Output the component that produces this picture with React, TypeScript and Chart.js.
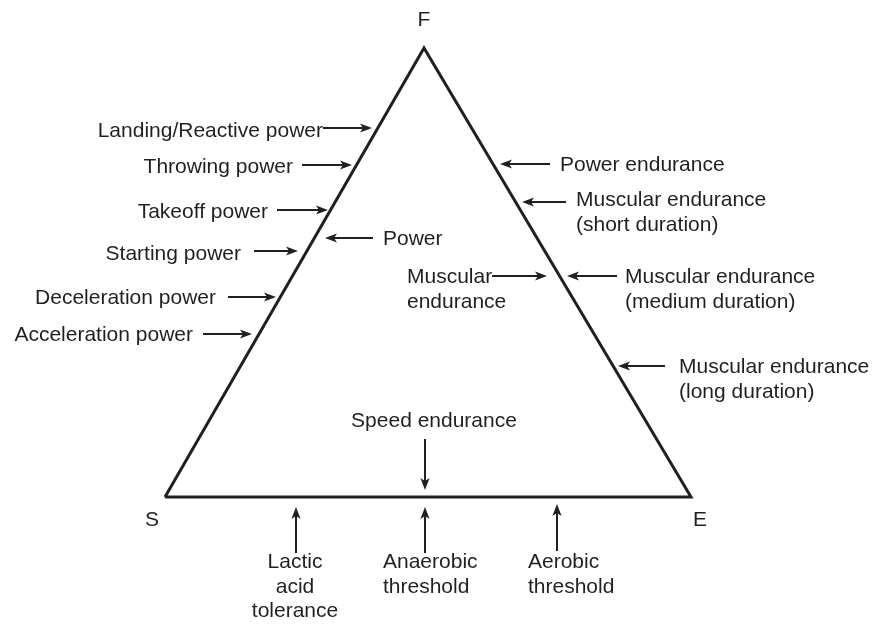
import React, { useEffect, useRef } from "react";
import { Chart, registerables } from "chart.js";

Chart.register(...registerables);

// Triangle vertices (S -> F -> E -> S), diagram units
const triangleX = [165, 424, 691, 165];
const triangleY = [497, 48, 497, 497];

// Arrows: tail x, tail y, tip x, tip y
const arrowTailX = [323, 302, 277, 254, 228, 203, 373, 550, 566, 492, 617, 665, 425, 296, 425, 557];
const arrowTailY = [128, 165, 210, 251, 297, 334, 238, 164, 202, 276, 276, 366, 439, 553, 553, 551];
const arrowTipX = [372, 352, 328, 298, 276, 252, 325, 500, 522, 547, 567, 618, 425, 296, 425, 557];
const arrowTipY = [128, 165, 210, 251, 297, 334, 238, 164, 202, 276, 276, 366, 490, 507, 507, 504];

// Labels
const labelText: string[][] = [
  ["F"],
  ["S"],
  ["E"],
  ["Landing/Reactive power"],
  ["Throwing power"],
  ["Takeoff power"],
  ["Starting power"],
  ["Deceleration power"],
  ["Acceleration power"],
  ["Power"],
  ["Power endurance"],
  ["Muscular endurance", "(short duration)"],
  ["Muscular", "endurance"],
  ["Muscular endurance", "(medium duration)"],
  ["Muscular endurance", "(long duration)"],
  ["Speed endurance"],
  ["Lactic", "acid", "tolerance"],
  ["Anaerobic", "threshold"],
  ["Aerobic", "threshold"],
];
const labelX = [424, 152, 700, 323, 293, 268, 241, 216, 193, 383, 560, 576, 407, 625, 679, 434, 295, 383, 528];
const labelY = [26, 526, 526, 137, 173, 218, 260, 304, 341, 245, 171, 206, 283, 283, 373, 427, 568, 568, 568];
const labelAlign: CanvasTextAlign[] = [
  "center", "center", "center",
  "right", "right", "right", "right", "right", "right",
  "left", "left", "left", "left", "left", "left",
  "center", "center", "left", "left",
];

const INK = "#231f20";
const FONT = '21px "Liberation Sans", Arial, sans-serif';
const LINE_GAP = 24.5;

const diagramPlugin = {
  id: "diagramPlugin",
  afterDatasetsDraw(chart: any) {
    const ctx: CanvasRenderingContext2D = chart.ctx;
    const xs = chart.scales.x;
    const ys = chart.scales.y;
    ctx.save();
    // arrows
    ctx.strokeStyle = INK;
    ctx.fillStyle = INK;
    ctx.lineWidth = 2;
    for (let i = 0; i < arrowTailX.length; i++) {
      const x0 = xs.getPixelForValue(arrowTailX[i]);
      const y0 = ys.getPixelForValue(arrowTailY[i]);
      const x1 = xs.getPixelForValue(arrowTipX[i]);
      const y1 = ys.getPixelForValue(arrowTipY[i]);
      const ang = Math.atan2(y1 - y0, x1 - x0);
      const len = 12;
      const half = 4.6;
      const notch = 9;
      const ux = Math.cos(ang);
      const uy = Math.sin(ang);
      const px = -uy;
      const py = ux;
      ctx.beginPath();
      ctx.moveTo(x0, y0);
      ctx.lineTo(x1 - ux * notch, y1 - uy * notch);
      ctx.stroke();
      ctx.beginPath();
      ctx.moveTo(x1, y1);
      ctx.lineTo(x1 - ux * len + px * half, y1 - uy * len + py * half);
      ctx.lineTo(x1 - ux * notch, y1 - uy * notch);
      ctx.lineTo(x1 - ux * len - px * half, y1 - uy * len - py * half);
      ctx.closePath();
      ctx.fill();
    }
    // labels
    ctx.font = FONT;
    ctx.textBaseline = "alphabetic";
    for (let i = 0; i < labelText.length; i++) {
      const x = xs.getPixelForValue(labelX[i]);
      const y = ys.getPixelForValue(labelY[i]);
      ctx.textAlign = labelAlign[i];
      labelText[i].forEach((line, j) => {
        ctx.fillText(line, x, y + j * LINE_GAP);
      });
    }
    ctx.restore();
  },
};

export default function App() {
  const canvasRef = useRef<HTMLCanvasElement | null>(null);

  useEffect(() => {
    if (!canvasRef.current) return;
    const chart = new Chart(canvasRef.current, {
      type: "scatter",
      data: {
        datasets: [
          {
            label: "Triangle",
            data: triangleX.map((x, i) => ({ x, y: triangleY[i] })),
            showLine: true,
            borderColor: INK,
            borderWidth: 3,
            borderJoinStyle: "miter",
            borderCapStyle: "butt",
            pointRadius: 0,
            fill: false,
            tension: 0,
          },
        ],
      },
      options: {
        animation: false,
        responsive: true,
        maintainAspectRatio: false,
        layout: { padding: 0 },
        plugins: {
          legend: { display: false },
          tooltip: { enabled: false },
          title: { display: false },
        },
        scales: {
          x: { type: "linear", min: 0, max: 873, display: false },
          y: { type: "linear", min: 0, max: 624, reverse: true, display: false },
        },
      },
      plugins: [diagramPlugin],
    });
    return () => chart.destroy();
  }, []);

  return (
    <div style={{ position: "absolute", left: 0, top: 0, width: 873, height: 624, background: "#fff" }}>
      <canvas ref={canvasRef} />
    </div>
  );
}
